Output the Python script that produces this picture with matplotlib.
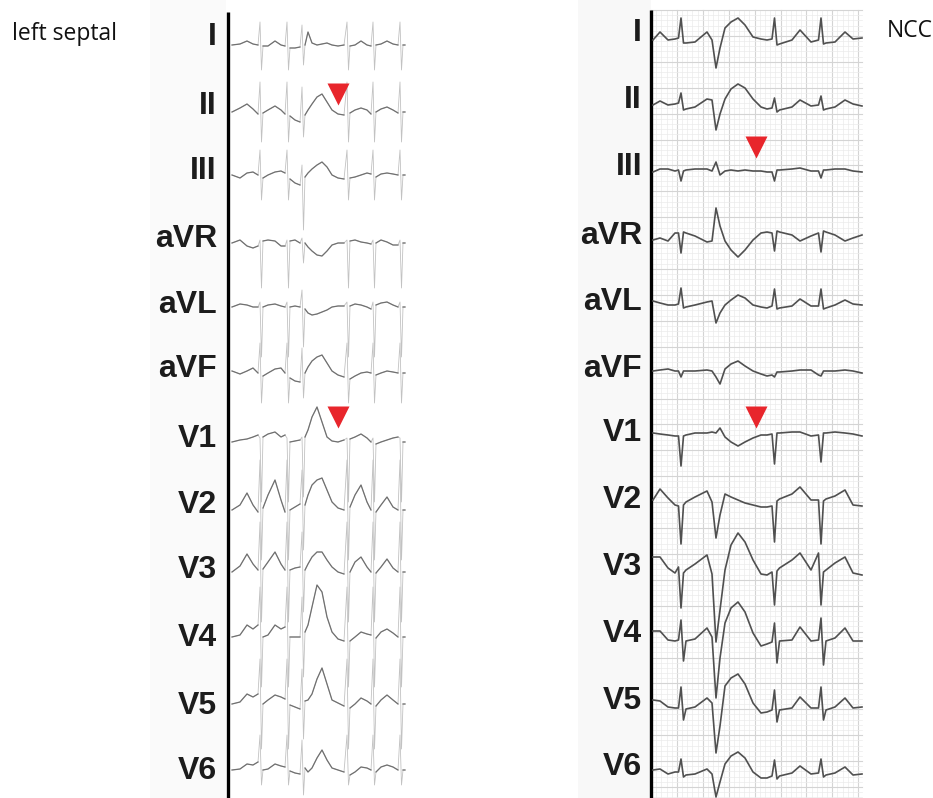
import numpy as np
import matplotlib
matplotlib.use("Agg")
import matplotlib.pyplot as plt

W, H = 933, 798
leads = ["I", "II", "III", "aVR", "aVL", "aVF", "V1", "V2", "V3", "V4", "V5", "V6"]

# ---------------- left septal panel: knot times (samples) and amplitudes ----------------
left_t = [0, 8, 15, 21, 26, 28, 29.5, 31, 36, 43,
          49, 53, 55, 56.5, 58, 63, 68, 70, 71.5, 73,
          76, 80, 85, 90, 95, 100, 106, 112, 115, 116.5,
          118, 123, 129, 135, 139, 141, 142.5, 144, 149, 155,
          161, 166, 168, 169.5, 171, 173]
left_spike_idx = [5, 6, 12, 13, 17, 18, 28, 29, 35, 36, 42, 43]

ls_I = [0, 1, 4, 1, 0, 23, -25, -1, -1, 4,
        0, -1, 23, -25, -3, -3, -2, 20, -20, 0,
        13, 2, 0, 1, 2, 0, -1, 0, 23, -25,
        -1, 0, 4, 0, -1, 23, -25, 0, 1, 4,
        1, 0, 23, -25, 0, 0]
ls_II = [0, 4, 8, 3, -2, 30, -30, -1, 2, 6,
         2, -2, 30, -30, -4, -8, -10, 25, -25, -3,
         2, 8, 15, 18, 10, 2, -2, -3, 30, -30,
         -1, 2, 4, 2, -2, 30, -30, 0, 3, 5,
         2, -1, 30, -30, 0, 0]
ls_III = [0, -3, 2, 3, 0, 25, -25, -3, 0, 3,
          4, 2, 25, -25, -4, -8, -10, 10, -55, -2,
          2, 6, 10, 13, 8, 0, -3, -4, 25, -25,
          -3, -2, 0, 2, 1, 25, -25, -2, 1, 2,
          1, 0, 25, -25, 0, 0]
ls_aVR = [0, 3, -3, -5, -3, 3, -45, 2, 3, 2,
          -3, -3, 3, -45, 2, 3, 0, 5, -20, 0,
          -4, -8, -12, -13, -8, -2, 0, 0, 3, -45,
          2, 3, 1, 0, -1, 3, -45, 0, 3, 1,
          -2, -2, 3, -45, 0, 0]
ls_aVL = [0, 3, 2, 0, 0, 5, -50, 0, 2, 3,
          1, 0, 5, -50, 0, 1, 0, 17, -40, -2,
          -6, -8, -7, -5, -3, 0, 1, 1, 5, -50,
          1, 3, 2, 0, -2, 5, -50, 2, 4, 5,
          2, 0, 5, -50, 0, 0]
ls_aVF = [2, -1, 2, 5, 0, 30, -30, -3, 0, 4,
          5, 0, 30, -30, -5, -8, -9, 25, -25, 0,
          6, 12, 16, 18, 10, 2, -2, -4, 30, -30,
          -6, -3, 0, 1, 0, 30, -30, -2, 0, 2,
          1, 0, 30, -30, 0, 0]
ls_V1 = [0, 2, 3, 5, 7, 4, -60, 5, 8, 10,
         5, 7, 4, -60, 0, 1, 2, 5, -55, 5,
         12, 25, 35, 20, 5, 1, 0, 2, 4, -60,
         3, 5, 8, 4, 0, 4, -60, -2, 0, 2,
         4, 5, 4, -60, 0, 0]
ls_V2 = [0, 5, 17, 5, -2, 50, -50, 2, 15, 30,
         10, -2, 50, -50, 0, 3, 6, 40, -40, 5,
         15, 25, 30, 32, 20, 8, 2, 0, 50, -50,
         3, 15, 25, 8, 0, 50, -50, -2, 5, 13,
         3, 0, 50, -50, 0, 0]
ls_V3 = [0, 6, 18, 8, 2, 50, -50, 3, 10, 20,
         8, 2, 50, -50, 2, 4, 5, 40, -40, 2,
         8, 15, 20, 20, 12, 5, 0, -2, 50, -50,
         0, 10, 15, 5, 0, 50, -50, -1, 5, 13,
         4, 0, 50, -50, 0, 0]
ls_V4 = [0, 2, 12, 8, 12, 50, -50, 0, 2, 12,
         8, 10, 50, -50, 0, 0, 0, 40, -40, 5,
         12, 30, 52, 45, 20, 5, -2, -4, 50, -50,
         -4, 0, 5, 3, 2, 50, -50, -1, 5, 8,
         4, 0, 50, -50, 0, 0]
ls_V5 = [0, 2, 10, 7, 10, 45, -45, 0, 4, 9,
         7, 5, 45, -45, -1, -3, -5, 35, -35, 3,
         4, 10, 25, 36, 20, 4, 1, -2, 45, -45,
         -4, 0, 6, 3, 0, 45, -45, -2, 4, 9,
         4, 0, 45, -45, 0, 0]
ls_V6 = [0, 1, 6, 5, 8, 35, -15, 0, 1, 6,
         4, 3, 35, -15, -1, -3, -4, 30, -25, 2,
         -2, 2, 12, 20, 10, 2, 0, -2, 35, -15,
         -5, -2, 3, 2, 0, 35, -15, -2, 3, 5,
         3, 0, 35, -15, 0, 0]
left_traces = [ls_I, ls_II, ls_III, ls_aVR, ls_aVL, ls_aVF,
               ls_V1, ls_V2, ls_V3, ls_V4, ls_V5, ls_V6]

# ---------------- NCC panel ----------------
ncc_t = [0, 7, 15, 22, 25.5, 28, 30.5, 33, 42, 54,
         59, 63, 67, 72, 78, 85, 92, 100, 108, 114,
         119, 121.5, 124, 126.5, 139, 147, 158, 165.5, 168, 170.5,
         173, 182, 192, 200, 209]
ncc_I = [0, 8, 0, 1, 2, 22, -3, -3, -2, 8,
         0, -28, -8, 12, 18, 22, 15, 3, 1, 0,
         1, 22, -5, -4, 0, 10, -2, 0, 22, -4,
         -3, -2, 8, 1, 2]
ncc_II = [-1, 3, -1, 0, 1, 11, -6, -5, -3, 5,
          4, -26, -10, 5, 15, 20, 16, 5, -3, -5,
          -4, 6, -8, -6, -3, 4, -2, -1, 8, -6,
          -5, -3, 4, 0, -2]
ncc_III = [-1, 2, 2, 0, 1, -10, 0, 1, 2, 2,
           0, 9, -4, 0, 1, 0, 1, 0, 0, -1,
           -1, -10, 1, 1, 2, 3, 0, 0, -7, 1,
           1, 2, 2, 0, -1]
ncc_aVR = [-2, 0, -3, 5, 5, -15, 6, 5, 2, -4,
           -3, 30, 12, -3, -12, -19, -12, -2, 5, 6,
           5, -13, 7, 6, 3, -3, 2, 5, -14, 7,
           6, 3, -3, 0, 3]
ncc_aVL = [2, 0, -2, -2, -1, 15, -5, -4, -2, 1,
           2, -20, -10, -2, 3, 8, 5, -2, -4, -5,
           -3, 14, -6, -5, -3, 4, -3, -3, 14, -6,
           -5, -2, 3, -1, -2]
ncc_aVF = [1, 2, 3, 1, 1, -5, 1, 1, 1, 2,
           1, -5, -12, 3, 8, 11, 6, 1, -2, -4,
           -3, -5, 0, 0, 1, 2, 2, -3, -4, 1,
           1, 1, 2, 1, -1]
ncc_V1 = [1, 0, -1, -2, -2, -32, -2, -1, 1, 1,
          2, 1, 6, -3, -8, -12, -8, -4, -1, -1,
          0, -30, 1, 1, 2, 2, -2, -1, -28, 1,
          1, 2, 1, 0, -2]
ncc_V2 = [0, 11, 2, -5, -6, -44, -5, -2, 3, 9,
          -2, -38, -15, 6, 3, 0, -3, -5, -7, -7,
          -6, -42, -1, 1, 6, 13, 0, 0, -44, -1,
          1, 4, 10, -5, -6]
ncc_V3 = [13, 13, 2, -3, 3, -38, -3, 0, 6, 15,
          -4, -72, -40, 0, 25, 37, 28, 10, -4, -5,
          -2, -35, -1, 2, 10, 17, 0, 17, -35, -2,
          0, 7, 13, -3, -5]
ncc_V4 = [7, 7, -2, -3, -2, 18, -23, -3, -1, 10,
          1, -60, -20, 15, 30, 36, 26, 5, -8, -6,
          -4, 15, -25, -3, -2, 11, -3, -2, 20, -27,
          -3, 0, 10, -3, -3]
ncc_V5 = [6, 5, -1, -2, -2, 19, -14, -3, -1, 8,
          3, -47, -20, 20, 28, 32, 22, 3, -7, -6,
          -4, 16, -16, -4, -2, 9, -2, -2, 19, -14,
          -4, -1, 8, -2, -1]
ncc_V6 = [2, 3, -2, 0, 0, 13, -5, -3, -2, 3,
          -2, -25, -10, 8, 16, 20, 14, 0, -6, -6,
          -4, 12, -7, -4, -1, 6, -2, -1, 13, -5,
          -3, -1, 5, -3, -2]
ncc_traces = [ncc_I, ncc_II, ncc_III, ncc_aVR, ncc_aVL, ncc_aVF,
              ncc_V1, ncc_V2, ncc_V3, ncc_V4, ncc_V5, ncc_V6]

# arrowheads: (lead, time, height above baseline)
left_arrows = [("II", 106, 18), ("V1", 106, 25)]
ncc_arrows = [("III", 103, 24), ("V1", 103, 17)]

# ---------------- layout ----------------
left_base = [45, 112, 175, 243, 307, 373, 442, 510, 572, 637, 704, 770]
left_label_y = [37, 106, 171, 239, 305, 369, 439, 505, 570, 638, 706, 771]
right_base = [40, 104, 171, 238, 303, 372, 434, 500, 570, 638, 706, 772]
right_label_y = [33, 100, 167, 236, 302, 369, 433, 500, 567, 634, 701, 767]

fig = plt.figure(figsize=(W / 100, H / 100), dpi=100)
bg = fig.add_axes([0, 0, 1, 1])
bg.set_xlim(0, W)
bg.set_ylim(H, 0)
bg.axis("off")

# faint label backgrounds
bg.add_patch(plt.Rectangle((150, 0), 76, H, color="#fafafa", lw=0, zorder=0))
bg.add_patch(plt.Rectangle((578, 0), 73, H, color="#f8f8f8", lw=0, zorder=0))

# ECG grid for NCC panel
gx0, gx1, gy0, gy1 = 651, 862, 10, H
step = 5.18
k = 0
while gx0 + k * step <= gx1 + 0.5:
    x = gx0 + k * step
    major = (k % 5 == 0)
    bg.plot([x, x], [gy0, gy1], color="#d4d4d4" if major else "#ebebeb",
            lw=0.8 if major else 0.5, zorder=1)
    k += 1
k = 0
while gy0 + k * step <= gy1:
    y = gy0 + k * step
    major = (k % 5 == 0)
    bg.plot([gx0, gx1], [y, y], color="#d4d4d4" if major else "#ebebeb",
            lw=0.8 if major else 0.5, zorder=1)
    k += 1

# vertical black lines
bg.plot([228, 228], [12, H], color="black", lw=2.4, zorder=5, solid_capstyle="butt")
bg.plot([651, 651], [10, H], color="black", lw=2.4, zorder=5, solid_capstyle="butt")

lab_font = dict(family=["Liberation Sans", "DejaVu Sans"], fontsize=23,
                fontweight="bold", color="#1c1c1c")
for name, ly, ry in zip(leads, left_label_y, right_label_y):
    bg.text(217, ly, name, ha="right", va="center", **lab_font, zorder=6)
    bg.text(642, ry, name, ha="right", va="center", **lab_font, zorder=6)

bg.text(12, 34, "left septal", ha="left", va="center",
        family=["Open Sans", "DejaVu Sans"], fontsize=16.5, color="#111111")
bg.text(887, 31, "NCC", ha="left", va="center",
        family=["Open Sans", "DejaVu Sans"], fontsize=16.5, color="#111111")

# left traces
axL = fig.add_axes([232 / W, 0, 173 / W, 1])
axL.set_xlim(0, 173)
axL.set_ylim(H, 0)
axL.axis("off")
lt = np.array(left_t, dtype=float)
for vals, base in zip(left_traces, left_base):
    y = base - np.array(vals, dtype=float)
    axL.plot(lt, y, color="#c2c2c2", lw=0.6, zorder=2, clip_on=False)
    ym = y.copy()
    ym[left_spike_idx] = np.nan
    axL.plot(lt, ym, color="#707070", lw=0.9, zorder=3, clip_on=False)
for lead, t, h in left_arrows:
    i = leads.index(lead)
    axL.plot(t, left_base[i] - h, marker="v", ms=15.5, color="#e8262c",
             mec="none", zorder=6, clip_on=False)

# NCC traces
axR = fig.add_axes([653 / W, 0, 209 / W, 1])
axR.set_xlim(0, 209)
axR.set_ylim(H, 0)
axR.axis("off")
rt = np.array(ncc_t, dtype=float)
for vals, base in zip(ncc_traces, right_base):
    axR.plot(rt, base - np.array(vals, dtype=float), color="#505050", lw=1.2,
             zorder=3, clip_on=False, solid_joinstyle="round")
for lead, t, h in ncc_arrows:
    i = leads.index(lead)
    axR.plot(t, right_base[i] - h, marker="v", ms=15.5, color="#e8262c",
             mec="none", zorder=6, clip_on=False)

fig.savefig("out.png", dpi=100)
